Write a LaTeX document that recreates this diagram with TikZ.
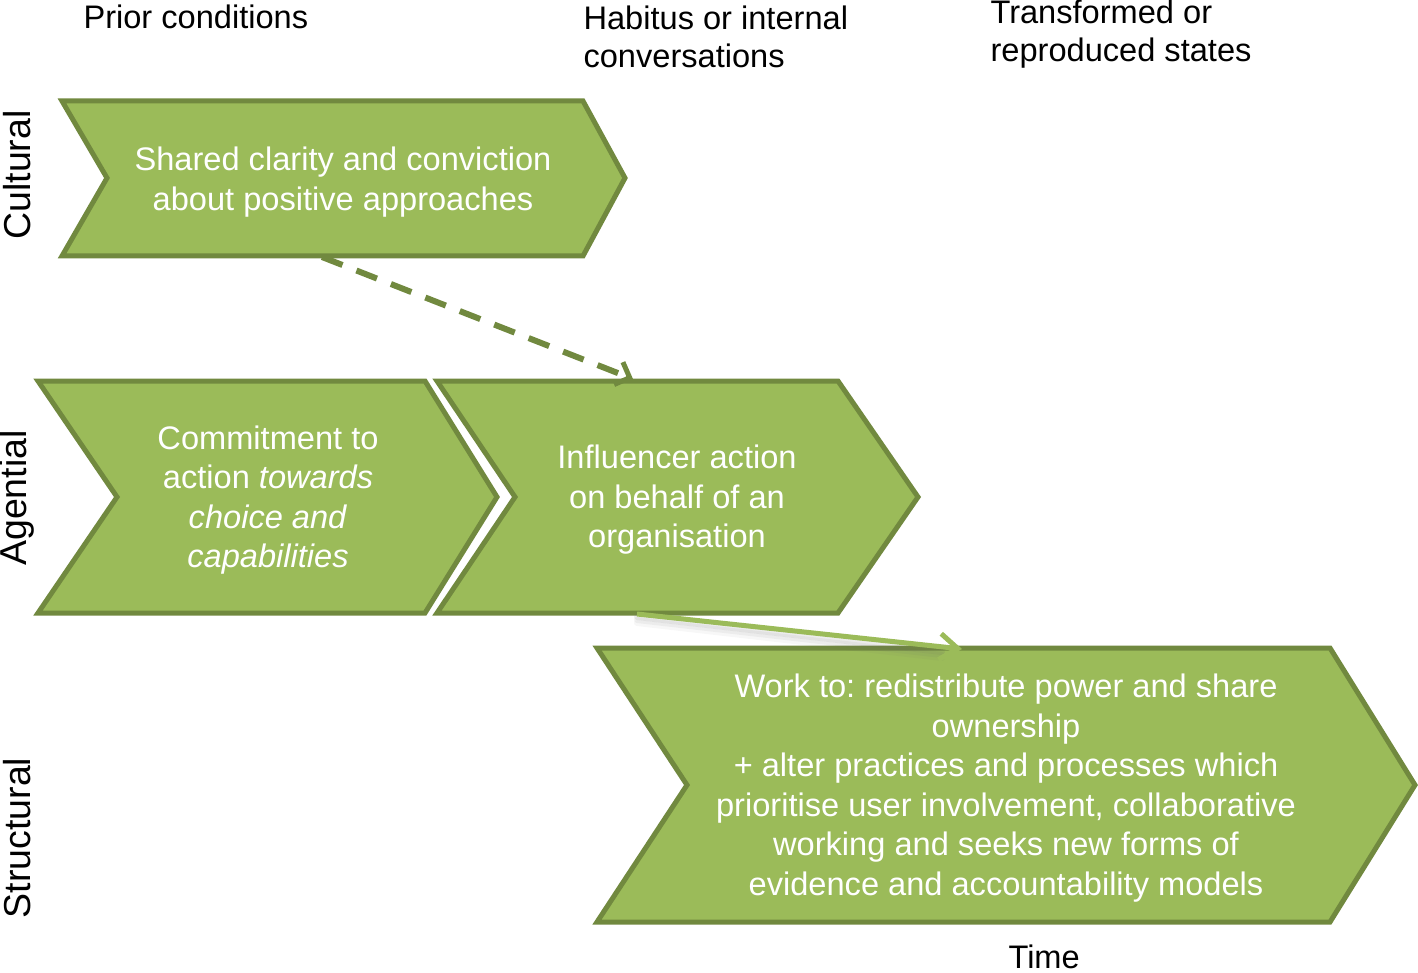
\documentclass[tikz,border=0pt]{standalone}
\usepackage{fontspec}
\setmainfont{Liberation Sans}
\usetikzlibrary{arrows.meta,calc}
\definecolor{chfill}{HTML}{9BBB59}
\definecolor{chline}{HTML}{71893F}
\frenchspacing
\tikzset{
  chev/.style={fill=chfill, draw=chline, line width=5pt, line join=miter},
  intext/.style={text=white, align=center, font=\fontsize{32.6}{39.5}\selectfont},
  lbl/.style={text=black, align=left, font=\fontsize{32.6}{38.5}\selectfont, anchor=west},
  side/.style={text=black, font=\fontsize{37.5}{40}\selectfont, rotate=90, inner sep=0pt},
}
\begin{document}
\begin{tikzpicture}[x=1pt,y=-1pt]
\useasboundingbox (0,0) rectangle (1418,973);
% chevrons
\draw[chev] (62,101) -- (583,101) -- (625,178) -- (583,256) -- (62,256) -- (107,178) -- cycle;
\draw[chev] (38,381) -- (425,381) -- (497,497) -- (425,613) -- (38,613) -- (117,497) -- cycle;
\draw[chev] (437,381) -- (838,381) -- (918,497) -- (838,613) -- (437,613) -- (515,497) -- cycle;
\draw[chev] (597,648) -- (1330,648) -- (1415,785) -- (1330,922) -- (597,922) -- (687,785) -- cycle;
% texts
\node[intext] (c1) at (343,182) {Shared clarity and conviction\\about positive approaches};
\node[intext] (a1) at (268,500) {Commitment to\\action \textit{towards}\\\textit{choice and}\\\textit{capabilities}};
\node[intext] (a2) at (677,500) {Influencer action\\on behalf of an\\organisation};
\node[intext] (s1) at (1006,788) {Work to: redistribute power and share\\ownership\\+ alter practices and processes which\\prioritise user involvement, collaborative\\working and seeks new forms of\\evidence and accountability models};
% headers
\node[lbl] (h1) at (80,17) {Prior conditions};
\node[lbl] (h2) at (580,37) {Habitus or internal\\conversations};
\node[lbl] (h3) at (987,34) {Transformed or\\reproduced states};
\node[lbl] (t) at (1005,957) {Time};
\node[side] (v1) at (17,175) {Cultural};
\node[side] (v2) at (17,498) {Agential};
\node[side] (v3) at (17,838) {Structural};
% connectors
\coordinate (d0) at (322,257);
\coordinate (d1) at (633,379);
\draw[chline, line width=6pt, dash pattern=on 22pt off 15pt, -{Straight Barb[length=12pt,width=24pt,line width=5pt]}] (d0) -- (d1);
\coordinate (s0) at (637,614);
\coordinate (s1e) at (962,649);
\foreach \o/\op in {3/0.12,6/0.08,9/0.05}{
  \draw[black!60, opacity=\op, line width=6pt, line cap=round] ($(s0)+(0,\o)$) -- ($(s1e)+(-20,\o)$);
}
\draw[chfill, line width=5pt, -{Straight Barb[length=18pt,width=26pt,line width=5pt]}] (s0) -- (s1e);
\end{tikzpicture}
\end{document}
